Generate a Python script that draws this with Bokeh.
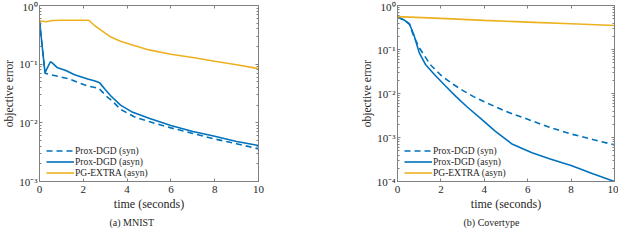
from bokeh.plotting import figure
from bokeh.layouts import row
from bokeh.models import (Range1d, LogAxis, LinearAxis, Legend, LegendItem, Title,
                          FixedTicker, LogTicker, CustomJSTickFormatter)
from bokeh.embed import file_html
from bokeh.resources import INLINE

# ---------------- data ----------------
x_ticks = [0, 2, 4, 6, 8, 10]

# (a) MNIST
mn_syn_t = [0, 0.25, 0.45, 1.0, 1.35, 1.8, 2.25, 2.7, 3.1, 3.3, 3.7, 4.3, 5.0, 6.0, 7.0, 8.0, 9.0, 10.0]
mn_syn_y = [0.55, 0.07, 0.067, 0.06, 0.056, 0.048, 0.042, 0.039, 0.0275, 0.024, 0.017, 0.0128,
            0.0105, 0.0082, 0.0066, 0.0053, 0.0044, 0.0036]
mn_asyn_t = [0, 0.25, 0.5, 0.58, 0.8, 1.2, 1.6, 2.2, 2.5, 2.75, 3.0, 3.25, 3.7, 4.2, 5.0, 6.0,
             7.0, 8.0, 9.0, 10.0]
mn_asyn_y = [0.55, 0.072, 0.11, 0.105, 0.088, 0.078, 0.066, 0.056, 0.052, 0.048, 0.037, 0.029,
             0.020, 0.0155, 0.012, 0.009, 0.0071, 0.0059, 0.0048, 0.0041]
mn_pg_t = [0, 0.3, 0.6, 1.0, 1.5, 2.0, 2.25, 2.5, 2.82, 3.26, 3.7, 4.28, 5.0, 6.0, 7.0, 8.0, 9.0, 10.0]
mn_pg_y = [0.55, 0.53, 0.555, 0.56, 0.56, 0.56, 0.56, 0.46, 0.376, 0.29, 0.246, 0.21, 0.175,
           0.148, 0.13, 0.112, 0.098, 0.084]

# (b) Covertype
cv_syn_t = [0, 0.3, 0.55, 0.73, 1.0, 1.5, 2.0, 2.5, 3.0, 3.5, 4.0, 5.0, 6.0, 7.0, 8.0, 9.0, 10.0]
cv_syn_y = [0.55, 0.47, 0.38, 0.21, 0.11, 0.046, 0.026, 0.017, 0.0118, 0.0085, 0.0065, 0.0039,
            0.0026, 0.0017, 0.0012, 0.0009, 0.00068]
cv_asyn_t = [0, 0.3, 0.55, 0.75, 1.0, 1.3, 1.7, 2.2, 2.7, 3.2, 3.8, 4.5, 5.3, 6.2, 7.0, 8.0, 9.0, 10.0]
cv_asyn_y = [0.55, 0.47, 0.38, 0.22, 0.085, 0.045, 0.027, 0.015, 0.0085, 0.005, 0.0028, 0.0014,
             0.0007, 0.00045, 0.00033, 0.00023, 0.00015, 0.0001]
cv_pg_t = [0, 2, 4, 6, 8, 10]
cv_pg_y = [0.56, 0.51, 0.46, 0.42, 0.385, 0.35]

labels = ["Prox-DGD (syn)", "Prox-DGD (asyn)", "PG-EXTRA (asyn)"]

BLUE = "#0072BD"
ORANGE = "#EDB120"
FONT = "Liberation Serif"
AX = "#808080"
TXT = "#262626"

sup_fmt = CustomJSTickFormatter(code="""
const e = Math.round(Math.log10(tick));
const m = {"0":"\u2070","1":"\u00b9","2":"\u00b2","3":"\u00b3","4":"\u2074","5":"\u2075","-":"\u207b"};
return "10" + String(e).split("").map(c => m[c]).join("");
""")


def style_axis(ax, show_labels):
    ax.axis_line_color = AX
    ax.major_tick_line_color = AX
    ax.minor_tick_line_color = AX
    ax.major_tick_in = 3
    ax.major_tick_out = 0
    ax.minor_tick_in = 2
    ax.minor_tick_out = 0
    ax.major_label_text_font = FONT
    ax.axis_label_text_font = FONT
    ax.axis_label_text_font_style = "normal"
    ax.axis_label_text_color = TXT
    if show_labels:
        ax.major_label_text_font_size = "11px"
        ax.major_label_text_color = TXT
    else:
        ax.formatter = CustomJSTickFormatter(code="return '';")
        ax.major_label_text_font_size = "0px"
        ax.major_label_text_color = None
        ax.major_label_standoff = 0
        ax.axis_label_standoff = 0


def panel(width, bl, br, ymin, series, caption, cap_off):
    p = figure(width=width, height=228, y_axis_type="log",
               x_range=Range1d(0, 10), y_range=Range1d(ymin, 1),
               output_backend="svg", toolbar_location=None,
               min_border_left=bl, min_border_right=br, min_border_top=5, min_border_bottom=20)
    p.grid.visible = False
    p.outline_line_color = AX
    p.background_fill_color = "white"
    p.border_fill_color = "white"

    p.xaxis.ticker = FixedTicker(ticks=x_ticks, minor_ticks=[])
    p.yaxis.ticker = LogTicker(num_minor_ticks=10)
    p.yaxis.formatter = sup_fmt
    for ax in p.xaxis + p.yaxis:
        style_axis(ax, True)
    p.xaxis.axis_label = "time (seconds)"
    p.xaxis.axis_label_text_font_size = "12px"
    p.xaxis.axis_label_standoff = 1
    p.xaxis.major_label_standoff = 4
    p.yaxis.axis_label = "objective error"
    p.yaxis.axis_label_text_font_size = "11.5px"
    p.yaxis.axis_label_standoff = 1
    p.yaxis.major_label_standoff = 2

    top = LinearAxis(ticker=FixedTicker(ticks=x_ticks, minor_ticks=[]))
    style_axis(top, False)
    p.add_layout(top, "above")
    right = LogAxis(ticker=LogTicker(num_minor_ticks=10))
    style_axis(right, False)
    p.add_layout(right, "right")

    rends = []
    (t1, y1), (t2, y2), (t3, y3) = series
    rends.append(p.line(t1, y1, color=BLUE, line_width=1.6, line_dash="6 4"))
    rends.append(p.line(t2, y2, color=BLUE, line_width=1.6))
    rends.append(p.line(t3, y3, color=ORANGE, line_width=1.6))

    leg = Legend(items=[LegendItem(label=l, renderers=[r]) for l, r in zip(labels, rends)],
                 location=(7, 3))
    leg.background_fill_alpha = 0
    leg.border_line_color = None
    leg.label_text_font = FONT
    leg.label_text_font_size = "9.5px"
    leg.label_text_color = TXT
    leg.glyph_width = 28
    leg.glyph_height = 11
    leg.label_height = 11
    leg.label_standoff = 1
    leg.spacing = 0
    leg.padding = 0
    leg.margin = 0
    p.add_layout(leg)

    p.add_layout(Title(text=caption, align="left", offset=cap_off, text_font=FONT,
                       text_font_size="10px", text_font_style="normal", text_color=TXT,
                       standoff=2), "below")
    return p


p1 = panel(310, 28, 52, 1e-3,
           [(mn_syn_t, mn_syn_y), (mn_asyn_t, mn_asyn_y), (mn_pg_t, mn_pg_y)],
           "(a)  MNIST", 70)
p2 = panel(308, 87, 4, 1e-4,
           [(cv_syn_t, cv_syn_y), (cv_asyn_t, cv_asyn_y), (cv_pg_t, cv_pg_y)],
           "(b)  Covertype", 66)

layout = row(p1, p2)
open("out.html", "w").write(file_html(layout, INLINE))
